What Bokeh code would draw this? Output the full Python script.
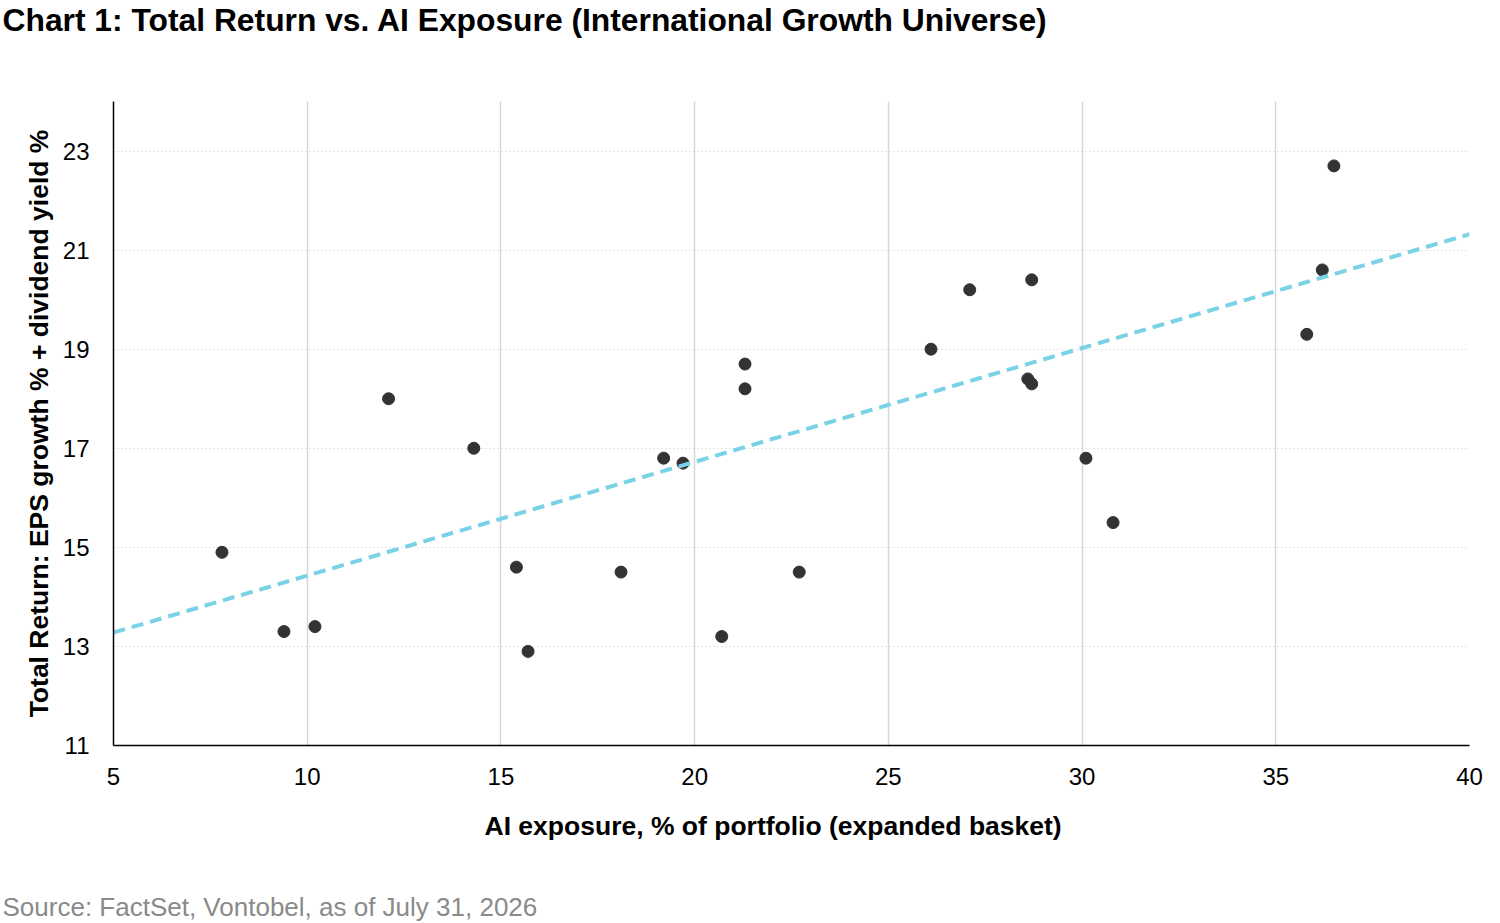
from bokeh.plotting import figure
from bokeh.models import FixedTicker, ColumnDataSource, Title
from bokeh.embed import file_html
from bokeh.resources import INLINE

# Data
ai_exposure = [7.8, 9.4, 10.2, 12.1, 14.3, 15.4, 15.7, 18.1, 19.2, 19.7, 20.7, 21.3,
               21.3, 22.7, 26.1, 27.1, 28.6, 28.7, 28.7, 30.1, 30.8, 35.8, 36.2, 36.5]
total_return = [14.9, 13.3, 13.4, 18.0, 17.0, 14.6, 12.9, 14.5, 16.8, 16.7, 13.2, 18.7,
                18.2, 14.5, 19.0, 20.2, 18.4, 18.3, 20.4, 16.8, 15.5, 19.3, 20.6, 22.7]
trend_x = [5, 40]
trend_y = [13.28, 21.32]
x_ticks = [5, 10, 15, 20, 25, 30, 35, 40]
y_ticks = [11, 13, 15, 17, 19, 21, 23]

W, H = 1500, 923
FONT = "Liberation Sans"

p = figure(width=W, height=H, x_range=(5, 40), y_range=(11, 24),
           output_backend="svg", toolbar_location=None,
           min_border_left=113, min_border_right=31, min_border_top=101, min_border_bottom=178)
p.outline_line_color = None
p.background_fill_color = "white"
p.border_fill_color = "white"

# main title (outermost) and a spacer between it and the frame
p.title = Title(text="Chart 1: Total Return vs. AI Exposure (International Growth Universe)",
                align="left", offset=-111, standoff=0, vertical_align="top",
                text_font=FONT, text_font_style="bold", text_font_size="31.8px",
                text_color="black")
p.add_layout(Title(text=" ", standoff=49, text_font_size="10px", text_font=FONT), "above")

for ax, ticks in ((p.xaxis[0], x_ticks), (p.yaxis[0], y_ticks)):
    ax.ticker = FixedTicker(ticks=ticks)
    ax.major_tick_in = 0
    ax.major_tick_out = 0
    ax.minor_tick_in = 0
    ax.minor_tick_out = 0
    ax.axis_line_color = "black"
    ax.axis_line_width = 1.5
    ax.major_label_text_font = FONT
    ax.major_label_text_font_size = "24px"
    ax.major_label_text_color = "black"
    ax.axis_label_text_font = FONT
    ax.axis_label_text_font_style = "bold"
    ax.axis_label_text_font_size = "26.5px"
    ax.axis_label_text_color = "black"

p.yaxis.axis_label = "Total Return: EPS growth % + dividend yield %"
p.xaxis.major_label_standoff = 22
p.yaxis.major_label_standoff = 24
p.yaxis.axis_label_standoff = 6

# x-axis title, placed slightly left of the frame centre as in the reference
p.add_layout(Title(text="AI exposure, % of portfolio (expanded basket)",
                   align="left", offset=371, standoff=46, vertical_align="top",
                   text_font=FONT, text_font_style="bold", text_font_size="26.5px",
                   text_color="black"), "below")

p.xgrid.grid_line_color = "#d6d6d6"
p.xgrid.grid_line_width = 1.5
p.ygrid.grid_line_color = "#c8c8c8"
p.ygrid.grid_line_width = 1
p.ygrid.grid_line_dash = "1 3"

src = ColumnDataSource(data=dict(x=ai_exposure, y=total_return))
p.scatter("x", "y", source=src, size=12, color="#333333", line_color="#333333")
p.line(trend_x, trend_y, line_color="#7ad2e6", line_width=4, line_dash="12 7")

# spacer, then the source note
p.add_layout(Title(text=" ", standoff=13, text_font_size="10px", text_font=FONT), "below")
p.add_layout(Title(text="Source: FactSet, Vontobel, as of July 31, 2026",
                   align="left", offset=-111, standoff=0, vertical_align="top",
                   text_font=FONT, text_font_style="normal", text_font_size="26px",
                   text_color="#8a8a8a"), "below")

open("out.html", "w").write(file_html(p, INLINE))
